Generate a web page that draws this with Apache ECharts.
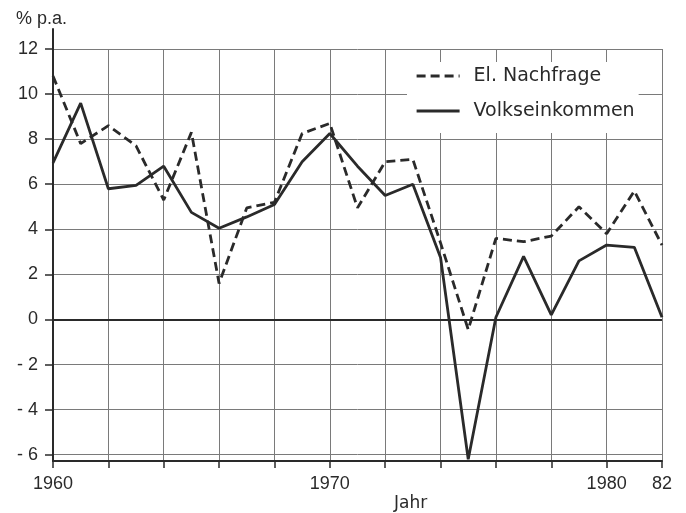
<!DOCTYPE html>
<html>
<head>
<meta charset="utf-8">
<script src="https://cdn.jsdelivr.net/npm/echarts@6/dist/echarts.min.js"></script>
<style>
  html, body { margin: 0; padding: 0; background: #fff; }
  #chart { width: 686px; height: 513px; }
</style>
</head>
<body>
<div id="chart"></div>
<script>
// ---- data ----
const years = [1960, 1961, 1962, 1963, 1964, 1965, 1966, 1967, 1968, 1969, 1970,
               1971, 1972, 1973, 1974, 1975, 1976, 1977, 1978, 1979, 1980, 1981, 1982];
const nachfrage = [10.8, 7.8, 8.6, 7.7, 5.3, 8.3, 1.6, 4.95, 5.2, 8.25, 8.7,
                   4.95, 7.0, 7.1, 3.4, -0.45, 3.6, 3.45, 3.7, 5.0, 3.8, 5.7, 3.3];
const volkseinkommen = [6.95, 9.6, 5.8, 5.95, 6.8, 4.75, 4.05, 4.55, 5.1, 7.0, 8.25,
                        6.8, 5.5, 6.0, 2.75, -6.2, 0.1, 2.8, 0.2, 2.6, 3.3, 3.2, 0.1];
const yTicks = [-6, -4, -2, 0, 2, 4, 6, 8, 10, 12];
const xLabelYears = [1960, 1970, 1980, 1982];
const seriesNames = ['El. Nachfrage', 'Volkseinkommen'];

const ink = '#2a2a2a';
const gridCol = '#7a7a7a';
const numFont = '"Liberation Sans", Arial, sans-serif';
const txtFont = '"DejaVu Sans", sans-serif';

const chart = echarts.init(document.getElementById('chart'), null, { renderer: 'canvas' });

const pairs = (vals) => years.map((y, i) => [y, vals[i]]);

chart.setOption({
  animation: false,
  backgroundColor: '#fff',
  title: [
    { text: '% p.a.', left: 11, top: 5,
      textStyle: { fontFamily: numFont, fontSize: 18, fontWeight: 'normal', color: ink } },
    { text: 'Jahr', left: 389, top: 490,
      textStyle: { fontFamily: txtFont, fontSize: 17, fontWeight: 'normal', color: ink } }
  ],
  grid: [
    { left: 53, right: 24, top: 49, bottom: 52, containLabel: false },
    { left: 53, width: 10, top: 29, height: 21, containLabel: false }
  ],
  xAxis: [
    {
      type: 'value', gridIndex: 0, min: 1960, max: 1982, interval: 2,
      axisLine: { show: true, onZero: false, lineStyle: { color: ink, width: 2 } },
      axisTick: { show: true, length: 7, lineStyle: { color: ink, width: 1.5 } },
      axisLabel: {
        customValues: xLabelYears,
        margin: 14,
        fontFamily: numFont, fontSize: 18, color: ink,
        formatter: (v) => v === 1982 ? '82' : String(v)
      },
      splitLine: { show: true, lineStyle: { color: gridCol, width: 1 } }
    },
    { type: 'value', gridIndex: 1, min: 0, max: 1, show: false }
  ],
  yAxis: [
    {
      type: 'value', gridIndex: 0, min: -6.28, max: 12,
      axisLine: { show: true, onZero: false, lineStyle: { color: ink, width: 2 } },
      axisTick: { show: true, customValues: yTicks, length: 8, lineStyle: { color: ink, width: 1.5 } },
      axisLabel: {
        customValues: yTicks,
        margin: 15,
        fontFamily: numFont, fontSize: 18, color: ink,
        formatter: (v) => v < 0 ? '- ' + (-v) : String(v)
      },
      splitLine: { show: true, lineStyle: { color: gridCol, width: 1 } }
    },
    {
      type: 'value', gridIndex: 1, min: 0, max: 1,
      axisLine: { show: true, lineStyle: { color: ink, width: 2 } },
      axisTick: { show: false }, axisLabel: { show: false }, splitLine: { show: false }
    }
  ],
  legend: {
    data: seriesNames,
    orient: 'vertical',
    left: 407, top: 62,
    padding: [4, 4, 12, 8],
    itemGap: 15,
    itemWidth: 43, itemHeight: 14,
    itemStyle: { color: 'rgba(0,0,0,0)', borderColor: 'rgba(0,0,0,0)', borderWidth: 0, opacity: 0 },
    lineStyle: { width: 3.2 },
    backgroundColor: '#fff',
    textStyle: { fontFamily: txtFont, fontSize: 19, color: ink, lineHeight: 20, padding: [0, 0, 0, 9] }
  },
  series: [
    {
      name: seriesNames[0], type: 'line', xAxisIndex: 0, yAxisIndex: 0,
      data: pairs(nachfrage), symbol: 'none', z: 3,
      lineStyle: { color: ink, width: 2.8, type: [9, 5] },
      itemStyle: { color: ink }
    },
    {
      name: seriesNames[1], type: 'line', xAxisIndex: 0, yAxisIndex: 0,
      data: pairs(volkseinkommen), symbol: 'none', z: 4,
      lineStyle: { color: ink, width: 2.8 },
      itemStyle: { color: ink },
      markLine: {
        silent: true, symbol: 'none', label: { show: false },
        lineStyle: { color: ink, width: 2, type: 'solid' },
        data: [{ yAxis: 0 }]
      }
    }
  ]
});
</script>
</body>
</html>
